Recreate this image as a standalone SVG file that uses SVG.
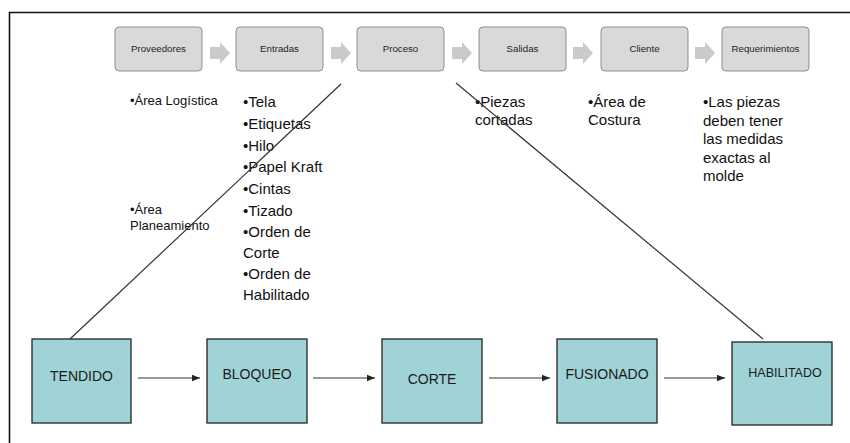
<svg xmlns="http://www.w3.org/2000/svg" width="850" height="443" viewBox="0 0 850 443">
<defs>
<style>
.top{fill:#d9d9d9;stroke:#8f8f8f;stroke-width:1}
.chev{fill:#cacaca}
.tt{font-family:"Liberation Sans",Arial,sans-serif;font-size:9.7px;fill:#222;text-anchor:middle}
.bt{font-family:"Liberation Sans",Arial,sans-serif;font-size:15px;fill:#111}
.st{font-family:"Liberation Sans",Arial,sans-serif;font-size:13px;fill:#111}
.box{fill:#a0d3d6;stroke:#222;stroke-width:1.3}
.bx{font-family:"Liberation Sans",Arial,sans-serif;font-size:14px;fill:#1a1a1a;text-anchor:middle}
.ln{stroke:#333;stroke-width:1.2;fill:none}
</style>
<marker id="ah" viewBox="0 0 10 10" refX="10" refY="5" markerWidth="8" markerHeight="8" markerUnits="userSpaceOnUse" orient="auto">
<path d="M0,1 L10,5 L0,9 z" fill="#222"/>
</marker>
<path id="chv" d="M0,5 H10 V0 L20,11 L10,22 V17 H0 z"/>
</defs>
<rect width="850" height="443" fill="#fff"/>
<path d="M9.5,443 V12.5 H850" fill="none" stroke="#111" stroke-width="1.6"/>

<g id="proveedores"><rect class="top" x="115" y="27" width="87" height="44" rx="4"/><text class="tt" x="158.5" y="52">Proveedores</text></g>
<g id="entradas"><rect class="top" x="236" y="27" width="87" height="44" rx="4"/><text class="tt" x="279.5" y="52">Entradas</text></g>
<g id="proceso"><rect class="top" x="357" y="27" width="87" height="44" rx="4"/><text class="tt" x="400.5" y="52">Proceso</text></g>
<g id="salidas"><rect class="top" x="479" y="27" width="87" height="44" rx="4"/><text class="tt" x="522.5" y="52">Salidas</text></g>
<g id="cliente"><rect class="top" x="601" y="27" width="87" height="44" rx="4"/><text class="tt" x="644.5" y="52">Cliente</text></g>
<g id="requerimientos"><rect class="top" x="722" y="27" width="87" height="44" rx="4"/><text class="tt" x="765.5" y="52">Requerimientos</text></g>

<g id="chevrons">
<use href="#chv" class="chev" x="210" y="42"/>
<use href="#chv" class="chev" x="331" y="42"/>
<use href="#chv" class="chev" x="452" y="42"/>
<use href="#chv" class="chev" x="573" y="42"/>
<use href="#chv" class="chev" x="695" y="42"/>
</g>

<g id="texto-proveedores">
<text class="st" x="130" y="105">•Área Logística</text>
<text class="st" x="130" y="214">•Área</text>
<text class="st" x="130" y="230">Planeamiento</text>
</g>
<g id="texto-entradas">
<text class="bt" x="243" y="107">•Tela</text>
<text class="bt" x="243" y="128.5">•Etiquetas</text>
<text class="bt" x="243" y="150.5">•Hilo</text>
<text class="bt" x="243" y="172">•Papel Kraft</text>
<text class="bt" x="243" y="194">•Cintas</text>
<text class="bt" x="243" y="216">•Tizado</text>
<text class="bt" x="243" y="237">•Orden de</text>
<text class="bt" x="243" y="257.5">Corte</text>
<text class="bt" x="243" y="279">•Orden de</text>
<text class="bt" x="243" y="300">Habilitado</text>
</g>
<g id="texto-salidas">
<text class="bt" x="475" y="107">•Piezas</text>
<text class="bt" x="475" y="125">cortadas</text>
</g>
<g id="texto-cliente">
<text class="bt" x="588" y="107">•Área de</text>
<text class="bt" x="588" y="125">Costura</text>
</g>
<g id="texto-requerimientos">
<text class="bt" x="703" y="107">•Las piezas</text>
<text class="bt" x="703" y="125.5">deben tener</text>
<text class="bt" x="703" y="144">las medidas</text>
<text class="bt" x="703" y="162.5">exactas al</text>
<text class="bt" x="703" y="181">molde</text>
</g>

<g id="tendido"><rect class="box" x="32" y="339" width="99" height="84"/><text class="bx" x="81.5" y="381">TENDIDO</text></g>
<g id="bloqueo"><rect class="box" x="207" y="339" width="100" height="84"/><text class="bx" x="257" y="379">BLOQUEO</text></g>
<g id="corte"><rect class="box" x="382" y="339" width="100" height="84"/><text class="bx" x="432" y="384">CORTE</text></g>
<g id="fusionado"><rect class="box" x="557" y="339" width="100" height="84"/><text class="bx" x="607" y="379">FUSIONADO</text></g>
<g id="habilitado"><rect class="box" x="732" y="342" width="100" height="83"/><text class="bx" x="785" y="377" style="font-size:12.5px">HABILITADO</text></g>

<g id="connectors">
<line class="ln" x1="138" y1="378" x2="200" y2="378" marker-end="url(#ah)"/>
<line class="ln" x1="313" y1="378" x2="375" y2="378" marker-end="url(#ah)"/>
<line class="ln" x1="489" y1="378" x2="550" y2="378" marker-end="url(#ah)"/>
<line class="ln" x1="664" y1="378" x2="725" y2="378" marker-end="url(#ah)"/>
<line class="ln" x1="70" y1="339" x2="341" y2="84" stroke-width="1"/>
<line class="ln" x1="456" y1="83" x2="763" y2="339" stroke-width="1"/>
</g>
</svg>
